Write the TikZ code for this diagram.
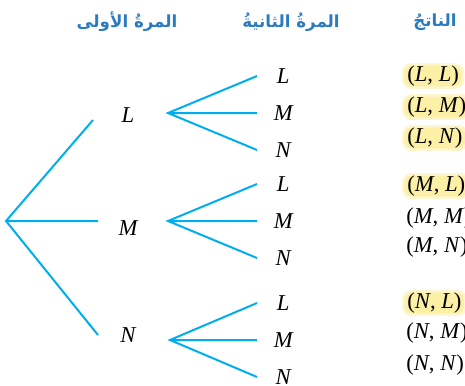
\documentclass[tikz,border=0pt]{standalone}
\usepackage{fontspec}
\setmainfont{Liberation Serif}
\newfontfamily\arabicfont[Script=Arabic]{DejaVu Sans}
\TeXXeTstate=1
\usetikzlibrary{positioning}
\definecolor{branch}{HTML}{00AEEF}
\definecolor{headblue}{HTML}{2B7BC0}
\definecolor{hilite}{HTML}{FCEFA6}
\tikzset{
  branchline/.style={branch,line width=1.5pt},
  lbl/.style={font=\fontsize{17}{20}\selectfont\itshape,inner sep=0pt},
  leaf/.style={lbl,anchor=west,minimum width=39pt},
  outcome/.style={lbl,anchor=west,inner xsep=3pt,inner ysep=1pt},
  picked/.style={outcome,fill=hilite,draw=hilite!55,line width=2pt,rounded corners=6pt},
  head/.style={font=\arabicfont\bfseries\fontsize{12.5}{15}\selectfont,text=headblue}
}
\newcommand\pair[2]{\upshape(\textit{#1}, \textit{#2})}
\begin{document}
\begin{tikzpicture}[x=0.75pt,y=-0.75pt]
  \useasboundingbox (0,0) rectangle (465,386);
  % headings
  \node[head] (hdfirst) at (127,22) {\beginR المرةُ الأولى\endR};
  \node[head] (hdsecond) at (291,22) {\beginR المرةُ الثانيةُ\endR};
  \node[head] (hdresult) at (435,22) {\beginR الناتجُ\endR};
  % first draw
  \coordinate (root) at (6,221);
  \coordinate (eL) at (93,120);
  \coordinate (eM) at (98,221);
  \coordinate (eN) at (98,335);
  \node[lbl] (L) at (128,115) {L};
  \node[lbl] (M) at (128,228) {M};
  \node[lbl] (N) at (128,335) {N};
  \draw[branchline] (eL) -- (root) -- (eN) (root) -- (eM);
  % second draw
  \foreach \a/\x/\y in {L/168/113,M/168/221,N/170/340}{
    \coordinate (f\a) at (\x,\y);
    \node[leaf] (\a L) at (257,{\y-37}) {L};
    \node[leaf] (\a M) at (257,\y) {M};
    \node[leaf] (\a N) at (257,{\y+37}) {N};
    \draw[branchline] (\a L.west) -- (f\a) -- (\a N.west) (f\a) -- (\a M.west);
  }
  % outcomes
  \node[picked] (oLL) at (402,76) {\pair{L}{L}};
  \node[picked] (oLM) at (402,107) {\pair{L}{M}};
  \node[picked] (oLN) at (402,138) {\pair{L}{N}};
  \node[picked] (oML) at (402,186) {\pair{M}{L}};
  \node[outcome] (oMM) at (402,218) {\pair{M}{M}};
  \node[outcome] (oMN) at (402,247) {\pair{M}{N}};
  \node[picked] (oNL) at (402,303) {\pair{N}{L}};
  \node[outcome] (oNM) at (402,333) {\pair{N}{M}};
  \node[outcome] (oNN) at (402,365) {\pair{N}{N}};
\end{tikzpicture}
\end{document}
